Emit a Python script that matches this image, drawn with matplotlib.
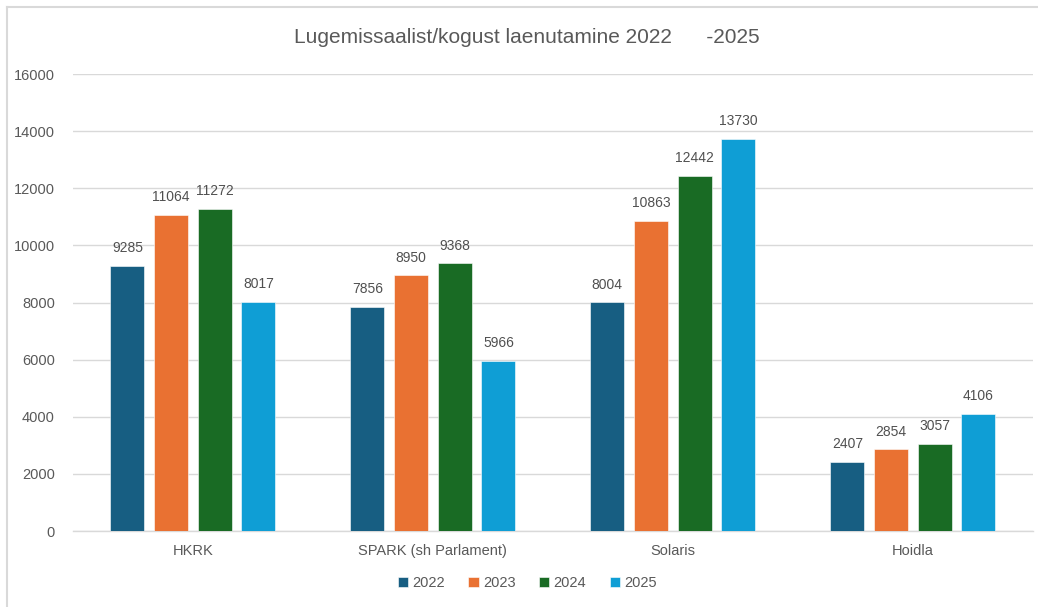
import matplotlib
matplotlib.use("Agg")
import matplotlib.pyplot as plt
from matplotlib.lines import Line2D
import numpy as np

categories = ["HKRK", "SPARK (sh Parlament)", "Solaris", "Hoidla"]
years = ["2022", "2023", "2024", "2025"]
v2022 = [9285, 7856, 8004, 2407]
v2023 = [11064, 8950, 10863, 2854]
v2024 = [11272, 9368, 12442, 3057]
v2025 = [8017, 5966, 13730, 4106]
series = [v2022, v2023, v2024, v2025]
colors = ["#175E82", "#E97132", "#196B24", "#0F9ED5"]
title = "Lugemissaalist/kogust laenutamine 2022      -2025"

plt.rcParams['font.family'] = ['Liberation Sans Narrow', 'Liberation Sans', 'DejaVu Sans']

fig = plt.figure(figsize=(10.38, 6.07), dpi=100)
ax = fig.add_axes([0.0703, 0.1252, 0.9247, 0.7528])

x = np.arange(len(categories))
pitch = 0.182
width = 0.142
for i, (vals, c, yr) in enumerate(zip(series, colors, years)):
    pos = x + (i - 1.5) * pitch
    ax.bar(pos, vals, width=width, color=c, label=yr, zorder=3,
           edgecolor="#ffffff", linewidth=0.4)
    for p, v in zip(pos, vals):
        ax.text(p, v + 380, str(v), ha="center", va="bottom", fontsize=10,
                color="#505050")

ax.set_xlim(-0.5, 3.5)
ax.set_ylim(0, 16000)
ax.set_yticks(range(0, 16001, 2000))
ax.grid(axis="y", color="#D9D9D9", linewidth=1.0, zorder=0)
for s in ["top", "right", "left"]:
    ax.spines[s].set_visible(False)
ax.spines["bottom"].set_color("#D9D9D9")
ax.spines["bottom"].set_linewidth(1.0)
ax.tick_params(axis="both", length=0, labelsize=10.5, labelcolor="#595959")
ax.tick_params(axis="y", pad=13)
ax.tick_params(axis="x", pad=9)
ax.set_xticks(x)
ax.set_xticklabels(categories)

fig.text(0.508, 0.938, title, ha="center", va="center", fontsize=15,
         color="#595959")

leg = fig.legend(loc="center", bbox_to_anchor=(0.508, 0.04), ncol=4,
                 frameon=False, fontsize=10.5, handlelength=0.7, handleheight=0.7,
                 handletextpad=0.3, columnspacing=1.6)
for t in leg.get_texts():
    t.set_color("#595959")

# chart frame
fig.add_artist(Line2D([7/1038, 7/1038], [0, 1 - 7/607], color="#D9D9D9",
                      linewidth=1.5, transform=fig.transFigure))
fig.add_artist(Line2D([7/1038, 1], [1 - 7/607, 1 - 7/607], color="#D9D9D9",
                      linewidth=1.5, transform=fig.transFigure))

fig.savefig("out.png", dpi=100)
